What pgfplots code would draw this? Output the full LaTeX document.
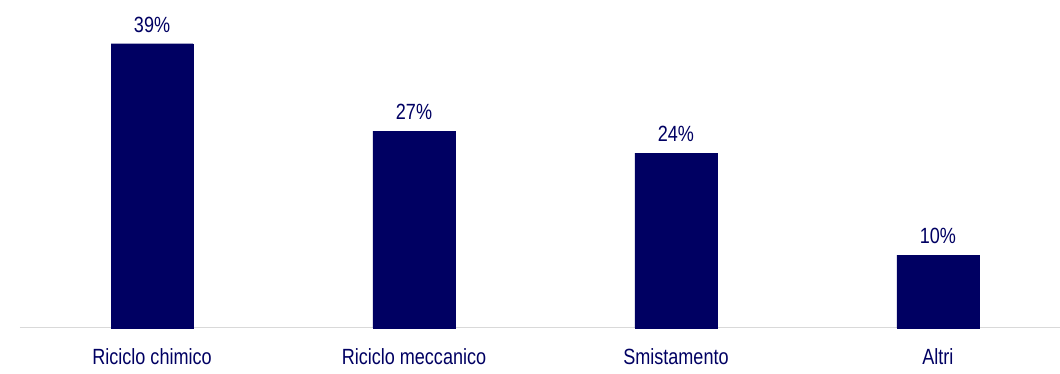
\documentclass[border=0pt]{standalone}
\usepackage{fontspec}
\setmainfont{Liberation Sans}[FakeStretch=0.82]
\usepackage{pgfplots}
\pgfplotsset{compat=1.18}
\definecolor{navy}{RGB}{0,0,98}
\definecolor{axgrey}{RGB}{217,217,217}
\begin{document}
\begin{tikzpicture}
\path[use as bounding box] (-20pt,-46pt) rectangle (1040pt,328pt);
\begin{axis}[
  at={(0,0)}, anchor=south west,
  scale only axis,
  width=1040pt, height=328pt,
  xmin=-0.504, xmax=3.466,
  ymin=0, ymax=45,
  /pgf/number format/assume math mode=true,
  axis y line=none,
  axis x line*=bottom,
  x axis line style={draw=axgrey, line width=1pt, -},
  xtick={0,1,2,3},
  xticklabels={Riciclo chimico, Riciclo meccanico, Smistamento, Altri},
  major tick length=0pt,
  xtick style={draw=none},
  xticklabel style={inner sep=0pt, anchor=north, yshift=-20pt, font=\fontsize{22}{26}\selectfont, text=navy},
  ybar, bar width=82pt,
  clip=false,
  nodes near coords={\pgfmathprintnumber{\pgfplotspointmeta}\%},
  nodes near coords style={inner sep=0pt, anchor=south, yshift=11pt, font=\fontsize{22}{26}\selectfont, text=navy},
]
\addplot[fill=navy, draw=navy] coordinates {(0,39) (1,27) (2,24) (3,10)};
\end{axis}
\end{tikzpicture}
\end{document}
